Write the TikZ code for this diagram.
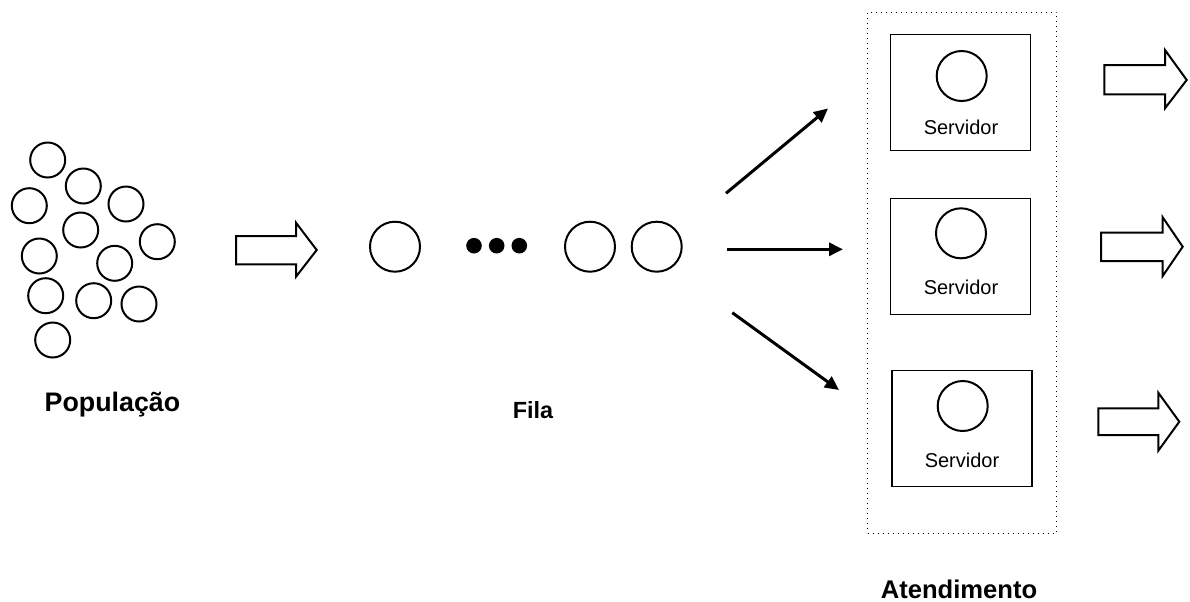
\documentclass[tikz,border=0pt]{standalone}
\usepackage{fontspec}
\setmainfont{Liberation Sans}
\usetikzlibrary{arrows.meta}
\begin{document}
\begin{tikzpicture}[x=0.5pt,y=-0.5pt,
  popc/.style={circle,draw,line width=1pt,minimum size=17.5pt,inner sep=0pt},
  qc/.style={circle,draw,line width=1pt,minimum size=25pt,inner sep=0pt},
  dotc/.style={circle,fill,minimum size=7.8pt,inner sep=0pt},
  srv/.style={draw,line width=0.7pt,minimum width=70pt,minimum height=58pt,inner sep=0pt},
  srvlbl/.style={font=\fontsize{10}{12}\selectfont,inner sep=0pt},
  lbl/.style={font=\fontsize{13}{15}\selectfont\bfseries,inner sep=0pt},
  blk/.style={draw,line width=1pt,line join=miter,fill=white},
  thin/.style={line width=1.5pt,-{Triangle[length=7pt,width=6.5pt]}}]
\useasboundingbox (0,0) rectangle (1190,601);
% population
\node[popc] (p1) at (47.7,160) {};
\node[popc] (p2) at (83.3,186) {};
\node[popc] (p3) at (29.3,205.7) {};
\node[popc] (p4) at (126,204) {};
\node[popc] (p5) at (80.7,230) {};
\node[popc] (p6) at (157.3,241.7) {};
\node[popc] (p7) at (39.3,256) {};
\node[popc] (p8) at (114.7,263.3) {};
\node[popc] (p9) at (45.7,295.7) {};
\node[popc] (p10) at (93.7,300.7) {};
\node[popc] (p11) at (139,304) {};
\node[popc] (p12) at (52.7,340) {};
\node[lbl,font=\fontsize{13.4}{15}\selectfont\bfseries] (poplbl) at (112.5,405) {População};
% block arrow 1
\draw[blk] (236,236) -- (296,236) -- (296,222.7) -- (316.7,250) -- (296,276.7) -- (296,264.3) -- (236,264.3) -- cycle;
% queue
\node[qc] (q1) at (395,246.7) {};
\node[dotc] (d1) at (474,245.7) {};
\node[dotc] (d2) at (496.7,245.7) {};
\node[dotc] (d3) at (519.3,245.7) {};
\node[qc] (q2) at (590,246.7) {};
\node[qc] (q3) at (656.7,246.7) {};
\node[lbl,font=\fontsize{11.7}{14}\selectfont\bfseries] (filalbl) at (533,410) {Fila};
% thin arrows
\coordinate (a1s) at (726,193.3); \coordinate (a1e) at (828,108.5);
\coordinate (a2s) at (727.3,249.3); \coordinate (a2e) at (843,249.3);
\coordinate (a3s) at (732.3,312.7); \coordinate (a3e) at (839,390);
\draw[thin] (a1s) -- (a1e);
\draw[thin] (a2s) -- (a2e);
\draw[thin] (a3s) -- (a3e);
% dotted container
\node[draw,dotted,line width=0.5pt,minimum width=94.5pt,minimum height=260.5pt,inner sep=0pt] (att) at (962.2,272.7) {};
% servers
\node[srv] (s1) at (960.5,92.7) {};
\node[qc] (s1c) at (961.7,76) {};
\node[srvlbl] (s1l) at (961,127) {Servidor};
\node[srv] (s2) at (960.5,256.3) {};
\node[qc] (s2c) at (961,233.3) {};
\node[srvlbl] (s2l) at (961,287.5) {Servidor};
\node[srv] (s3) at (962,428.3) {};
\node[qc] (s3c) at (962.7,406) {};
\node[srvlbl] (s3l) at (962,460) {Servidor};
\node[lbl,font=\fontsize{12.8}{15}\selectfont\bfseries] (attlbl) at (959,589) {Atendimento};
% output block arrows
\draw[blk] (1104.3,65) -- (1165,65) -- (1165,50) -- (1186.7,80) -- (1165,108.3) -- (1165,94.3) -- (1104.3,94.3) -- cycle;
\draw[blk] (1101,232.7) -- (1162.7,232.7) -- (1162.7,217.3) -- (1182.7,246.7) -- (1162.7,276) -- (1162.7,261) -- (1101,261) -- cycle;
\draw[blk] (1098.3,408.3) -- (1158.3,408.3) -- (1158.3,392.7) -- (1179.3,421.7) -- (1158.3,450.7) -- (1158.3,435) -- (1098.3,435) -- cycle;
\end{tikzpicture}
\end{document}
